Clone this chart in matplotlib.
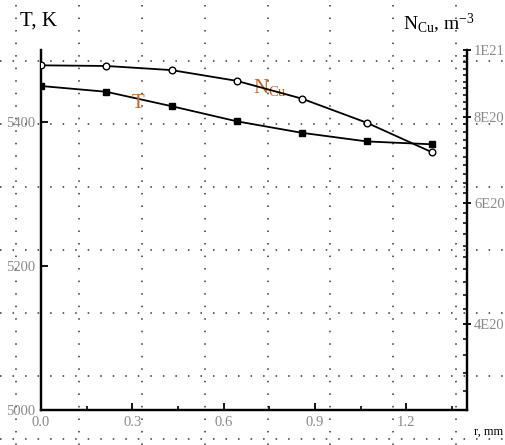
import numpy as np
import matplotlib.pyplot as plt
from matplotlib.lines import Line2D
from matplotlib.ticker import FixedLocator, MultipleLocator

# data
r_mm = [0.0, 0.214, 0.429, 0.643, 0.857, 1.071, 1.286]
T_K = [5450, 5442, 5422, 5401, 5385, 5373, 5369]
N_cu = [9.5e20, 9.48e20, 9.35e20, 9.02e20, 8.5e20, 7.84e20, 7.1e20]

n_ticks = [4e20, 6e20, 8e20, 1e21]
n_labels = ['4E20', '6E20', '8E20', '1E21']
t_ticks = [5000, 5200, 5400]

plt.rcParams['font.family'] = 'Liberation Serif'
plt.rcParams['mathtext.fontset'] = 'custom'
plt.rcParams['mathtext.rm'] = 'Liberation Serif'
plt.rcParams['mathtext.it'] = 'Liberation Serif'

W, H = 506, 445
fig = plt.figure(figsize=(W / 100, H / 100), dpi=100)

# dotted paper grid across the whole picture
dot = dict(color='#333333', lw=1.1, ls=(0, (1, 7.2)), zorder=0)
for px in [16, 79, 142, 205, 268, 330, 393, 456]:
    fig.add_artist(Line2D([px / W, px / W], [0, 1], transform=fig.transFigure, **dot))
for py in [61, 124, 187, 250, 313, 376, 439]:
    fig.add_artist(Line2D([0, 1], [1 - py / H, 1 - py / H], transform=fig.transFigure, **dot))

ax = fig.add_axes([41 / W, 35 / H, 426 / W, 360 / H])
ax.patch.set_alpha(0)
ax2 = ax.twinx()
ax2.patch.set_alpha(0)

ax.plot(r_mm, T_K, color='black', lw=1.3, marker='s', ms=4.2, mfc='black', mec='black', zorder=3)
ax2.plot(r_mm, N_cu, color='black', lw=1.3, marker='o', ms=4.8, mfc='white', mec='black', mew=1, zorder=3)

ax.set_xlim(0, 1.4)
ax.set_ylim(5000, 5500)
ax2.set_yscale('log')
ax2.set_ylim(3e20, 1e21)

for a in (ax, ax2):
    a.spines['top'].set_visible(False)
    for s in ['left', 'right', 'bottom']:
        a.spines[s].set_linewidth(1.6)

ax.xaxis.set_minor_locator(MultipleLocator(0.15))
ax.set_xticks([0.0, 0.3, 0.6, 0.9, 1.2])
ax.set_xticklabels(['0.0', '0.3', '0.6', '0.9', '1.2'])
ax.set_yticks(t_ticks)
ax.set_yticklabels([str(t) for t in t_ticks])
ax.tick_params(axis='both', which='major', direction='in', length=5, width=1.3,
               labelsize=10.5, labelcolor='#8a8a8a', pad=4)
ax.tick_params(axis='x', which='minor', direction='in', length=3, width=1.2)

ax2.yaxis.set_major_locator(FixedLocator(n_ticks))
ax2.set_yticklabels(n_labels)
ax2.yaxis.set_minor_locator(FixedLocator(np.arange(3e20, 1.001e21, 2e19)))
ax2.yaxis.set_minor_formatter(plt.NullFormatter())
ax2.tick_params(axis='y', which='major', direction='inout', length=6, width=1.3,
                labelsize=10.5, labelcolor='#8a8a8a', pad=2)
ax2.tick_params(axis='y', which='minor', direction='in', length=3, width=1.1)

# axis titles
fig.text(20 / W, 1 - 21 / H, 'T, K', fontsize=15, va='center', ha='left')
fig.text(403 / W, 1 - 24 / H, r'N$_{\rm Cu}$, m$^{-3}$', fontsize=14, va='center', ha='left')
fig.text(474 / W, 1 - 432 / H, 'r, mm', fontsize=9, va='center', ha='left')

# curve labels
lab = '#c8661e'
ax.text(0.318, 5419, 'T', fontsize=15, color=lab, ha='center', va='baseline')
ax.text(0.697, 5440, r'N$_{\rm Cu}$', fontsize=15, color=lab, ha='left', va='baseline')

fig.savefig('out.png', dpi=100)
